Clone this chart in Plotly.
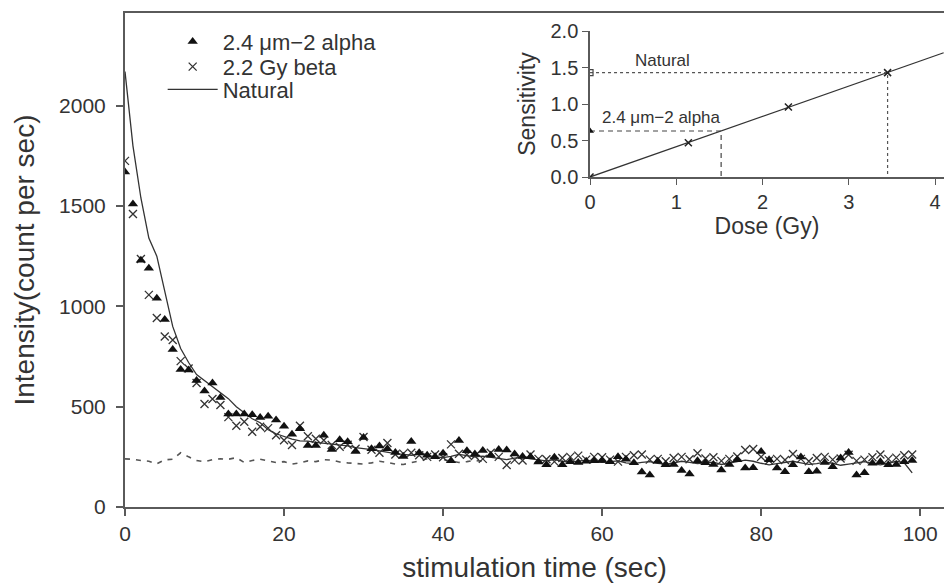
import numpy as np
import plotly.graph_objects as go

# ---------------- data ----------------
time_s = list(range(100))

alpha_24 = [1670, 1510, 1230, 1190, 1040, 935, 785, 685, 683, 630,
            578, 618, 546, 463, 463, 463, 460, 446, 452, 433,
            402, 363, 390, 307, 307, 358, 286, 335, 325, 277,
            346, 290, 304, 290, 272, 252, 326, 270, 258, 250,
            268, 230, 331, 280, 264, 282, 258, 286, 284, 264,
            252, 250, 224, 210, 248, 210, 226, 222, 228, 230,
            232, 225, 250, 238, 220, 174, 160, 228, 210, 212,
            182, 164, 230, 220, 212, 184, 212, 236, 194, 196,
            276, 235, 194, 176, 210, 249, 176, 178, 222, 200,
            244, 271, 159, 171, 218, 226, 210, 212, 226, 232]

beta_22 = [1725, 1460, 1236, 1057, 942, 850, 832, 727, 690, 618,
           513, 538, 508, 448, 405, 425, 375, 400, 393, 358,
           333, 309, 405, 353, 340, 333, 309, 300, 310, 290,
           349, 285, 270, 319, 262, 266, 270, 258, 250, 262,
           248, 312, 265, 260, 254, 240, 270, 250, 209, 235,
           232, 262, 240, 238, 226, 244, 250, 256, 236, 250,
           248, 236, 226, 250, 258, 262, 236, 240, 228, 244,
           250, 238, 268, 242, 248, 230, 240, 252, 284, 289,
           250, 232, 240, 234, 264, 240, 228, 244, 250, 236,
           242, 260, 230, 236, 248, 262, 240, 246, 258, 262]

natural = [2170, 1800, 1540, 1340, 1250, 1080, 900, 790, 720, 660,
           630, 600, 570, 540, 500, 470, 440, 420, 385, 365,
           350, 338, 330, 328, 322, 318, 315, 310, 305, 296,
           292, 286, 280, 272, 266, 262, 258, 262, 258, 250,
           246, 252, 262, 256, 250, 254, 248, 242, 236, 244,
           248, 240, 234, 230, 236, 228, 224, 230, 234, 228,
           222, 226, 230, 220, 216, 222, 226, 218, 214, 220,
           228, 222, 216, 220, 224, 212, 218, 226, 234, 228,
           218, 210, 216, 222, 228, 220, 212, 216, 224, 218,
           208, 214, 220, 226, 216, 210, 218, 228, 220, 170]

bg_time = list(range(46))
background = [240, 238, 232, 228, 215, 235, 238, 270, 250, 232,
              226, 236, 240, 238, 246, 222, 232, 238, 230, 222,
              226, 214, 220, 230, 226, 236, 234, 224, 220, 216,
              214, 220, 228, 222, 214, 212, 220, 230, 240, 246,
              236, 230, 222, 226, 232, 228]

# inset: dose-response
dose_gy = [0.0, 1.14, 2.3, 3.45]
sensitivity = [0.0, 0.47, 0.96, 1.43]
natural_sens = 1.43
natural_dose = 3.45
alpha_sens = 0.63
alpha_dose = 1.52

xticks_main = [0, 20, 40, 60, 80, 100]
yticks_main = [0, 500, 1000, 1500, 2000]
xticks_inset = [0, 1, 2, 3, 4]
yticks_inset = [0.0, 0.5, 1.0, 1.5, 2.0]

# ---------------- figure ----------------
FONT = "Liberation Sans, Arial, sans-serif"
TXT = "#333333"
AX = "#5a5a5a"

fig = go.Figure()

fig.add_trace(go.Scatter(x=bg_time, y=background, mode="lines",
                         line=dict(color="#555555", width=1.6, dash="5px,6px"),
                         showlegend=False, hoverinfo="skip"))
fig.add_trace(go.Scatter(x=time_s, y=natural, mode="lines", name="Natural",
                         legend="legend3",
                         line=dict(color="#333333", width=1.3)))
fig.add_trace(go.Scatter(x=time_s, y=beta_22, mode="markers", name="2.2 Gy beta",
                         legend="legend2",
                         marker=dict(symbol="x-thin", size=8, color="#333333",
                                     line=dict(width=1.3, color="#333333"))))
fig.add_trace(go.Scatter(x=time_s, y=alpha_24, mode="markers", name="2.4 μm−2 alpha",
                         legend="legend",
                         marker=dict(symbol="triangle-up", size=9, color="#111111")))

# inset traces
coef = np.polyfit(dose_gy, sensitivity, 1)
fit_x = np.array([0.0, 4.1])
fig.add_trace(go.Scatter(x=fit_x, y=np.polyval(coef, fit_x), mode="lines",
                         xaxis="x2", yaxis="y2", showlegend=False,
                         line=dict(color="#333333", width=1.3)))
fig.add_trace(go.Scatter(x=[0, natural_dose, natural_dose], y=[natural_sens, natural_sens, 0],
                         mode="lines", xaxis="x2", yaxis="y2", showlegend=False,
                         line=dict(color="#555555", width=1.2, dash="dot")))
fig.add_trace(go.Scatter(x=[0, alpha_dose, alpha_dose], y=[alpha_sens, alpha_sens, 0],
                         mode="lines", xaxis="x2", yaxis="y2", showlegend=False,
                         line=dict(color="#444444", width=1.2, dash="5px,4px")))
fig.add_trace(go.Scatter(x=dose_gy, y=sensitivity, mode="markers",
                         xaxis="x2", yaxis="y2", showlegend=False,
                         marker=dict(symbol="x-thin", size=7, color="#222222",
                                     line=dict(width=1.5, color="#222222"))))
fig.add_trace(go.Scatter(x=[0], y=[natural_sens], mode="markers",
                         xaxis="x2", yaxis="y2", showlegend=False,
                         marker=dict(symbol="square-open", size=6, color="#444444",
                                     line=dict(width=1.2))))
fig.add_trace(go.Scatter(x=[0], y=[alpha_sens], mode="markers",
                         xaxis="x2", yaxis="y2", showlegend=False,
                         marker=dict(symbol="triangle-up", size=7, color="#111111")))

fig.add_annotation(x=0.5, y=1.6, xref="x2", yref="y2", text="Natural",
                   showarrow=False, xanchor="left", yanchor="middle",
                   font=dict(family=FONT, size=17, color=TXT))
fig.add_annotation(x=0.12, y=0.81, xref="x2", yref="y2", text="2.4 μm−2 alpha",
                   showarrow=False, xanchor="left", yanchor="middle",
                   font=dict(family=FONT, size=17, color=TXT))

legend_common = dict(xanchor="left", yanchor="middle", bgcolor="rgba(0,0,0,0)",
                     font=dict(family=FONT, size=22, color=TXT), itemwidth=50)

fig.update_layout(
    width=944, height=585,
    margin=dict(l=125, r=0, t=13, b=78),
    paper_bgcolor="white", plot_bgcolor="white",
    font=dict(family=FONT, size=21, color=TXT),
    showlegend=True,
    legend=dict(x=0.046, y=0.942, **legend_common),
    legend2=dict(x=0.046, y=0.891, **legend_common),
    legend3=dict(x=0.046, y=0.845, **legend_common),
    xaxis=dict(range=[0, 103.0], tickvals=xticks_main, showgrid=False, zeroline=False,
               showline=True, mirror=True, linecolor=AX, linewidth=2,
               ticks="outside", ticklen=7, tickcolor=AX, tickwidth=1.5,
               title=dict(text="stimulation time (sec)", font=dict(size=28), standoff=13),
               tickfont=dict(size=21)),
    yaxis=dict(range=[0, 2462], tickvals=yticks_main, showgrid=False, zeroline=False,
               showline=True, linecolor=AX, linewidth=2,
               ticks="outside", ticklen=7, tickcolor=AX, tickwidth=1.5,
               ticklabelstandoff=6,
               title=dict(text="Intensity(count per sec)", font=dict(size=28), standoff=16),
               tickfont=dict(size=21)),
    xaxis2=dict(domain=[0.5678, 1.0], range=[0, 4.104], anchor="y2",
                tickvals=xticks_inset, showgrid=False, zeroline=False,
                showline=True, linecolor=AX, linewidth=1.5,
                ticks="outside", ticklen=6, tickcolor=AX,
                title=dict(text="Dose (Gy)", font=dict(size=23), standoff=6),
                tickfont=dict(size=20)),
    yaxis2=dict(domain=[0.668, 0.9635], range=[0, 2.0], anchor="x2",
                tickvals=yticks_inset, tickformat=".1f", showgrid=False, zeroline=False,
                showline=True, linecolor=AX, linewidth=1.5,
                ticks="outside", ticklen=6, tickcolor=AX,
                title=dict(text="Sensitivity", font=dict(size=23), standoff=8),
                tickfont=dict(size=20)),
)

# remove the browser's default 8px body margin so the figure fills the window exactly
fig.write_html("out.html",
               config={"displayModeBar": False},
               post_script="document.body.style.margin='0';document.body.style.overflow='hidden';")
